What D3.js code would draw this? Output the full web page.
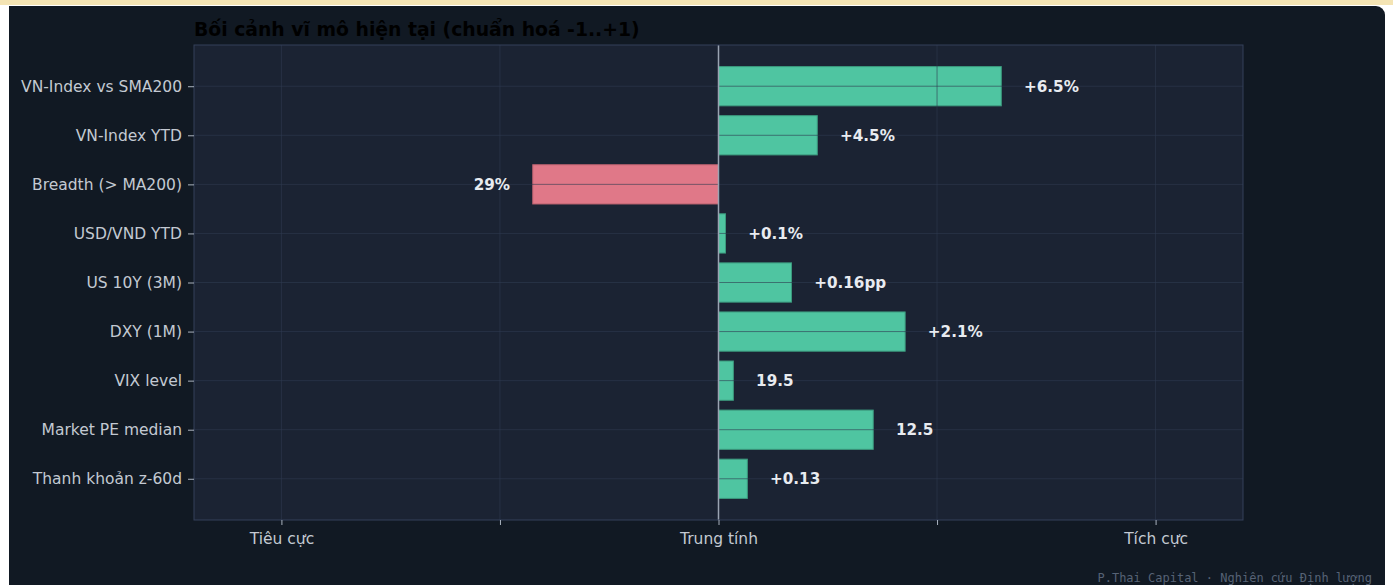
<!DOCTYPE html>
<html>
<head>
<meta charset="utf-8">
<script src="https://cdn.jsdelivr.net/npm/d3@7"></script>
<style>
  html, body { margin: 0; padding: 0; background: #ffffff; }
  .topline { position: absolute; left: 0; top: 0; width: 1393px; height: 5px; background: #f4e4b4; }
  .card { position: absolute; left: 9px; top: 6px; width: 1376px; height: 579px;
          background: #111923; border-top-right-radius: 9px; }
  svg { position: absolute; left: 0; top: 0; }
</style>
</head>
<body>
<div class="topline"></div>
<div class="card"></div>
<div class="chart"></div>
<script>
// macro factors, normalised score -1..+1
var categories = ["VN-Index vs SMA200", "VN-Index YTD", "Breadth (> MA200)", "USD/VND YTD",
                  "US 10Y (3M)", "DXY (1M)", "VIX level", "Market PE median", "Thanh khoản z-60d"];
var scores = [0.647, 0.226, -0.425, 0.016, 0.167, 0.427, 0.034, 0.354, 0.066];
var valueLabels = ["+6.5%", "+4.5%", "29%", "+0.1%", "+0.16pp", "+2.1%", "19.5", "12.5", "+0.13"];
var xTicks = [-1, -0.5, 0, 0.5, 1];
var xTickLabels = ["Tiêu cực", "", "Trung tính", "", "Tích cực"];

function MacroChart(){
    var self = this;
    self.init();
};

MacroChart.prototype.init = function(){
    var self = this;
    self.margin = {top: 45, right: 150, bottom: 65, left: 194};
    self.svgWidth = 1393;
    self.svgHeight = 585;
    self.w = self.svgWidth - self.margin.left - self.margin.right;
    self.h = self.svgHeight - self.margin.top - self.margin.bottom;

    self.svg = d3.select(".chart").append("svg")
        .attr("width", self.svgWidth)
        .attr("height", self.svgHeight)
        .style("font-family", "DejaVu Sans, sans-serif");

    self.g = self.svg.append("g")
        .attr("transform", "translate(" + self.margin.left + "," + self.margin.top + ")");

    self.x = d3.scaleLinear().domain([-1.2, 1.2]).range([0, self.w]);
    // matplotlib style barh limits: bars from -0.4..8.4 plus 5% margin
    self.y = d3.scaleLinear().domain([-0.84, categories.length - 1 + 0.84]).range([0, self.h]);
};

MacroChart.prototype.visualize = function(){
    var self = this;
    var g = self.g;

    g.append("rect")
        .attr("width", self.w).attr("height", self.h)
        .attr("fill", "#1b2333");

    var barH = self.y(0.8) - self.y(0);

    g.selectAll("rect.bar")
        .data(scores)
        .enter()
        .append("rect")
        .attr("class", "bar")
        .attr("x", function(d){ return self.x(Math.min(0, d)); })
        .attr("y", function(d, i){ return self.y(i) - barH / 2; })
        .attr("width", function(d){ return Math.abs(self.x(d) - self.x(0)); })
        .attr("height", barH)
        .attr("fill", function(d){ return d >= 0 ? "#4fc5a1" : "#e07888"; })
        .attr("stroke", function(d){ return d >= 0 ? "#3c9a7e" : "#b8606e"; })
        .attr("stroke-width", 1);

    // grid on top of bars
    g.selectAll("line.vgrid")
        .data(xTicks)
        .enter()
        .append("line")
        .attr("x1", function(d){ return self.x(d); })
        .attr("x2", function(d){ return self.x(d); })
        .attr("y1", 0).attr("y2", self.h)
        .attr("stroke", "#2e3a50").attr("stroke-opacity", 0.6).attr("stroke-width", 1);

    g.selectAll("line.hgrid")
        .data(categories)
        .enter()
        .append("line")
        .attr("x1", 0).attr("x2", self.w)
        .attr("y1", function(d, i){ return self.y(i); })
        .attr("y2", function(d, i){ return self.y(i); })
        .attr("stroke", "#2e3a50").attr("stroke-opacity", 0.6).attr("stroke-width", 1);

    // zero line
    g.append("line")
        .attr("x1", self.x(0)).attr("x2", self.x(0))
        .attr("y1", 0).attr("y2", self.h)
        .attr("stroke", "#9aa3b2").attr("stroke-width", 1.5);

    // value labels
    g.selectAll("text.val")
        .data(scores)
        .enter()
        .append("text")
        .attr("x", function(d){ return d >= 0 ? self.x(d + 0.052) : self.x(d - 0.052); })
        .attr("y", function(d, i){ return self.y(i); })
        .attr("dy", "0.35em")
        .attr("text-anchor", function(d){ return d >= 0 ? "start" : "end"; })
        .attr("fill", "#e8ebf0")
        .attr("font-size", "15.2px")
        .attr("font-weight", "bold")
        .text(function(d, i){ return valueLabels[i]; });

    // frame
    g.append("rect")
        .attr("width", self.w).attr("height", self.h)
        .attr("fill", "none")
        .attr("stroke", "#35415a").attr("stroke-width", 1);

    // axes
    var yAxis = g.append("g")
        .call(d3.axisLeft(self.y).tickValues(d3.range(categories.length))
              .tickFormat(function(i){ return categories[i]; }).tickSize(6).tickPadding(6));
    yAxis.select(".domain").remove();
    yAxis.selectAll("line").attr("stroke", "#aab2be");
    yAxis.selectAll("text").attr("fill", "#c3c9d2").attr("font-size", "15.5px")
        .attr("font-family", "DejaVu Sans, sans-serif");

    var xAxis = g.append("g")
        .attr("transform", "translate(0," + self.h + ")")
        .call(d3.axisBottom(self.x).tickValues(xTicks)
              .tickFormat(function(d, i){ return xTickLabels[i]; }).tickSize(5).tickPadding(8));
    xAxis.select(".domain").remove();
    xAxis.selectAll("line").attr("stroke", "#aab2be");
    xAxis.selectAll("text").attr("fill", "#c3c9d2").attr("font-size", "15.5px")
        .attr("font-family", "DejaVu Sans, sans-serif");

    // title
    self.svg.append("text")
        .attr("x", self.margin.left).attr("y", 36)
        .attr("fill", "#000000")
        .attr("font-size", "18.8px")
        .attr("font-weight", "bold")
        .text("Bối cảnh vĩ mô hiện tại (chuẩn hoá -1..+1)");

    // footer
    self.svg.append("text")
        .attr("x", 1372).attr("y", 582)
        .attr("text-anchor", "end")
        .attr("fill", "#566275")
        .attr("font-size", "12px")
        .attr("font-family", "DejaVu Sans Mono, monospace")
        .text("P.Thai Capital · Nghiên cứu Định lượng");
};

var chart = new MacroChart();
chart.visualize();
</script>
</body>
</html>
